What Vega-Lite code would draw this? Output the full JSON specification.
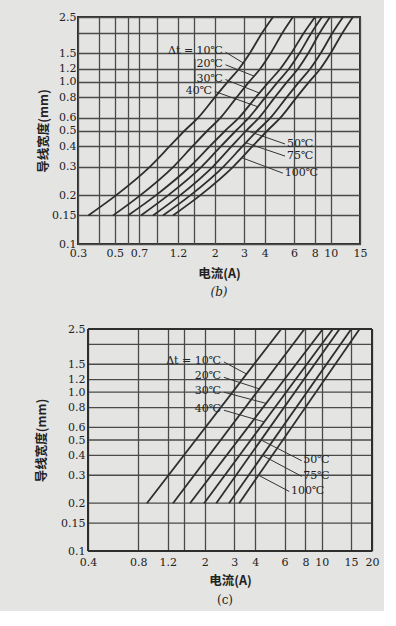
{
  "$schema": "https://vega.github.io/schema/vega-lite/v6.json",
  "background": "#e4e4e2",
  "padding": {"left": 35, "top": 10, "right": 5, "bottom": 5},
  "spacing": 24,
  "datasets": {
    "curvesB": [
      {"dt": 10, "W": 0.15, "I": 0.346}, {"dt": 10, "W": 0.2, "I": 0.51}, {"dt": 10, "W": 0.3, "I": 0.815}, {"dt": 10, "W": 0.4, "I": 1.07}, {"dt": 10, "W": 0.5, "I": 1.32}, {"dt": 10, "W": 0.6, "I": 1.59}, {"dt": 10, "W": 0.8, "I": 2.0}, {"dt": 10, "W": 1.0, "I": 2.4}, {"dt": 10, "W": 1.2, "I": 2.8}, {"dt": 10, "W": 1.5, "I": 3.26}, {"dt": 10, "W": 2.0, "I": 3.86}, {"dt": 10, "W": 2.5, "I": 4.49},
      {"dt": 20, "W": 0.15, "I": 0.488}, {"dt": 20, "W": 0.2, "I": 0.714}, {"dt": 20, "W": 0.3, "I": 1.13}, {"dt": 20, "W": 0.4, "I": 1.47}, {"dt": 20, "W": 0.5, "I": 1.81}, {"dt": 20, "W": 0.6, "I": 2.17}, {"dt": 20, "W": 0.8, "I": 2.71}, {"dt": 20, "W": 1.0, "I": 3.23}, {"dt": 20, "W": 1.2, "I": 3.76}, {"dt": 20, "W": 1.5, "I": 4.35}, {"dt": 20, "W": 2.0, "I": 5.12}, {"dt": 20, "W": 2.5, "I": 5.92},
      {"dt": 30, "W": 0.15, "I": 0.6}, {"dt": 30, "W": 0.2, "I": 0.887}, {"dt": 30, "W": 0.3, "I": 1.42}, {"dt": 30, "W": 0.4, "I": 1.87}, {"dt": 30, "W": 0.5, "I": 2.32}, {"dt": 30, "W": 0.6, "I": 2.8}, {"dt": 30, "W": 0.8, "I": 3.53}, {"dt": 30, "W": 1.0, "I": 4.25}, {"dt": 30, "W": 1.2, "I": 4.97}, {"dt": 30, "W": 1.5, "I": 5.79}, {"dt": 30, "W": 2.0, "I": 6.9}, {"dt": 30, "W": 2.5, "I": 8.04},
      {"dt": 40, "W": 0.15, "I": 0.718}, {"dt": 40, "W": 0.2, "I": 1.05}, {"dt": 40, "W": 0.3, "I": 1.67}, {"dt": 40, "W": 0.4, "I": 2.18}, {"dt": 40, "W": 0.5, "I": 2.69}, {"dt": 40, "W": 0.6, "I": 3.21}, {"dt": 40, "W": 0.8, "I": 4.03}, {"dt": 40, "W": 1.0, "I": 4.81}, {"dt": 40, "W": 1.2, "I": 5.6}, {"dt": 40, "W": 1.5, "I": 6.49}, {"dt": 40, "W": 2.0, "I": 7.66}, {"dt": 40, "W": 2.5, "I": 8.85},
      {"dt": 50, "W": 0.15, "I": 0.849}, {"dt": 50, "W": 0.2, "I": 1.24}, {"dt": 50, "W": 0.3, "I": 1.95}, {"dt": 50, "W": 0.4, "I": 2.53}, {"dt": 50, "W": 0.5, "I": 3.1}, {"dt": 50, "W": 0.6, "I": 3.7}, {"dt": 50, "W": 0.8, "I": 4.6}, {"dt": 50, "W": 1.0, "I": 5.47}, {"dt": 50, "W": 1.2, "I": 6.35}, {"dt": 50, "W": 1.5, "I": 7.33}, {"dt": 50, "W": 2.0, "I": 8.59}, {"dt": 50, "W": 2.5, "I": 9.89},
      {"dt": 75, "W": 0.15, "I": 0.975}, {"dt": 75, "W": 0.2, "I": 1.43}, {"dt": 75, "W": 0.3, "I": 2.26}, {"dt": 75, "W": 0.4, "I": 2.94}, {"dt": 75, "W": 0.5, "I": 3.62}, {"dt": 75, "W": 0.6, "I": 4.34}, {"dt": 75, "W": 0.8, "I": 5.42}, {"dt": 75, "W": 1.0, "I": 6.47}, {"dt": 75, "W": 1.2, "I": 7.52}, {"dt": 75, "W": 1.5, "I": 8.71}, {"dt": 75, "W": 2.0, "I": 10.26}, {"dt": 75, "W": 2.5, "I": 11.86},
      {"dt": 100, "W": 0.15, "I": 1.12}, {"dt": 100, "W": 0.2, "I": 1.64}, {"dt": 100, "W": 0.3, "I": 2.59}, {"dt": 100, "W": 0.4, "I": 3.38}, {"dt": 100, "W": 0.5, "I": 4.16}, {"dt": 100, "W": 0.6, "I": 4.98}, {"dt": 100, "W": 0.8, "I": 6.22}, {"dt": 100, "W": 1.0, "I": 7.43}, {"dt": 100, "W": 1.2, "I": 8.65}, {"dt": 100, "W": 1.5, "I": 10.0}, {"dt": 100, "W": 2.0, "I": 11.78}, {"dt": 100, "W": 2.5, "I": 13.6}
    ],
    "leadersB": [
      {"I": 2.32, "W": 1.52, "I2": 2.98, "W2": 1.3},
      {"I": 2.32, "W": 1.27, "I2": 3.46, "W2": 1.08},
      {"I": 2.32, "W": 1.03, "I2": 3.72, "W2": 0.85},
      {"I": 2.0, "W": 0.87, "I2": 3.63, "W2": 0.7},
      {"I": 5.3, "W": 0.413, "I2": 3.1, "W2": 0.5},
      {"I": 5.3, "W": 0.348, "I2": 3.08, "W2": 0.42},
      {"I": 5.15, "W": 0.273, "I2": 2.91, "W2": 0.34},
      {"I": 1.52, "W": 1.38, "I2": 1.52, "W2": 0.98}
    ],
    "labelsBLeft": [
      {"I": 2.24, "W": 1.54, "label": "Δt = 10℃"},
      {"I": 2.24, "W": 1.28, "label": "20℃"},
      {"I": 2.24, "W": 1.04, "label": "30℃"},
      {"I": 1.93, "W": 0.875, "label": "40℃"}
    ],
    "labelsBRight": [
      {"I": 5.45, "W": 0.413, "label": "50℃"},
      {"I": 5.45, "W": 0.348, "label": "75℃"},
      {"I": 5.29, "W": 0.273, "label": "100℃"}
    ],
    "curvesC": [
      {"dt": 10, "W": 0.2, "I": 0.9}, {"dt": 10, "W": 2.5, "I": 5.73},
      {"dt": 20, "W": 0.2, "I": 1.29}, {"dt": 20, "W": 2.5, "I": 7.89},
      {"dt": 30, "W": 0.2, "I": 1.63}, {"dt": 30, "W": 2.5, "I": 10.17},
      {"dt": 40, "W": 0.2, "I": 1.98}, {"dt": 40, "W": 2.5, "I": 11.67},
      {"dt": 50, "W": 0.2, "I": 2.34}, {"dt": 50, "W": 2.5, "I": 12.79},
      {"dt": 75, "W": 0.2, "I": 2.79}, {"dt": 75, "W": 2.5, "I": 15.03},
      {"dt": 100, "W": 0.2, "I": 3.21}, {"dt": 100, "W": 2.5, "I": 16.86}
    ],
    "gridC": [
      {"W": 0.15, "I": 0.4, "I2": 20}, {"W": 0.2, "I": 0.4, "I2": 20}, {"W": 0.3, "I": 0.4, "I2": 20}, {"W": 0.4, "I": 0.4, "I2": 20}, {"W": 0.5, "I": 0.4, "I2": 20}, {"W": 0.6, "I": 0.4, "I2": 20}, {"W": 0.8, "I": 0.4, "I2": 20}, {"W": 1.0, "I": 0.4, "I2": 20}, {"W": 1.2, "I": 0.4, "I2": 20}, {"W": 1.5, "I": 0.4, "I2": 20}, {"W": 2.0, "I": 0.4, "I2": 20}
    ],
    "frameCH": [{"W": 0.1, "I": 0.4, "I2": 20}, {"W": 2.5, "I": 0.4, "I2": 20}],
    "frameCV": [{"I": 0.4, "W": 0.1, "W2": 2.5}, {"I": 20, "W": 0.1, "W2": 2.5}],
    "leadersC": [
      {"I": 2.6, "W": 1.55, "I2": 3.56, "W2": 1.3},
      {"I": 2.6, "W": 1.24, "I2": 4.23, "W2": 1.05},
      {"I": 2.6, "W": 1.0, "I2": 4.65, "W2": 0.85},
      {"I": 2.6, "W": 0.77, "I2": 4.53, "W2": 0.65},
      {"I": 7.6, "W": 0.37, "I2": 4.34, "W2": 0.5},
      {"I": 7.6, "W": 0.295, "I2": 4.42, "W2": 0.4},
      {"I": 6.4, "W": 0.237, "I2": 4.19, "W2": 0.3}
    ],
    "labelsCLeft": [
      {"I": 2.5, "W": 1.57, "label": "Δt = 10℃"},
      {"I": 2.5, "W": 1.26, "label": "20℃"},
      {"I": 2.5, "W": 1.02, "label": "30℃"},
      {"I": 2.5, "W": 0.784, "label": "40℃"}
    ],
    "labelsCRight": [
      {"I": 7.76, "W": 0.374, "label": "50℃"},
      {"I": 7.76, "W": 0.297, "label": "75℃"},
      {"I": 6.55, "W": 0.239, "label": "100℃"}
    ]
  },
  "vconcat": [
    {
      "width": 282,
      "height": 227,
      "title": {"text": "(b)", "orient": "bottom", "offset": 7, "font": "DejaVu Serif", "fontSize": 12, "fontStyle": "italic", "fontWeight": "normal", "color": "#222"},
      "encoding": {
        "x": {"field": "I", "type": "quantitative",
          "scale": {"type": "log", "domain": [0.3, 15], "nice": false},
          "axis": {"title": "电流(A)", "values": [0.3, 0.4, 0.5, 0.6, 0.7, 0.9, 1.2, 1.5, 2, 3, 4, 6, 8, 10, 15],
            "labelExpr": "indexof([0.4, 0.6, 0.9, 1.5], datum.value) >= 0 ? '' : format(datum.value, '~g')",
            "labelPadding": 3, "titlePadding": 9}},
        "y": {"field": "W", "type": "quantitative",
          "scale": {"type": "log", "domain": [0.1, 2.5], "nice": false},
          "axis": {"title": "导线宽度(mm)", "values": [0.1, 0.15, 0.2, 0.3, 0.4, 0.5, 0.6, 0.8, 1, 1.2, 1.5, 2, 2.5],
            "labelExpr": "datum.value == 2 ? '' : datum.value == 1 ? '1.0' : format(datum.value, '~g')",
            "labelPadding": 2, "titlePadding": 1.5}}
      },
      "layer": [
        {"data": {"name": "curvesB"}, "mark": {"type": "line", "stroke": "#2e2e2e", "strokeWidth": 1.8, "interpolate": "monotone"},
         "encoding": {"detail": {"field": "dt", "type": "nominal"}}},
        {"data": {"name": "leadersB"}, "mark": {"type": "rule", "stroke": "#333", "strokeWidth": 1},
         "encoding": {"x2": {"field": "I2"}, "y2": {"field": "W2"}}},
        {"data": {"name": "labelsBLeft"}, "mark": {"type": "text", "align": "right", "baseline": "middle", "font": "DejaVu Serif", "fontSize": 11, "fill": "#222"},
         "encoding": {"text": {"field": "label"}}},
        {"data": {"name": "labelsBRight"}, "mark": {"type": "text", "align": "left", "baseline": "middle", "font": "DejaVu Serif", "fontSize": 11, "fill": "#222"},
         "encoding": {"text": {"field": "label"}}}
      ]
    },
    {
      "width": 294,
      "height": 222,
      "view": {"stroke": null},
      "title": {"text": "(c)", "orient": "bottom", "offset": 8, "font": "DejaVu Serif", "fontSize": 12, "fontWeight": "normal", "color": "#222"},
      "encoding": {
        "x": {"field": "I", "type": "quantitative",
          "scale": {"type": "log", "domain": [0.3484, 20], "nice": false},
          "axis": {"title": "电流(A)", "values": [0.4, 0.8, 1.2, 1.5, 2, 3, 4, 6, 8, 10, 15, 20],
            "labelExpr": "datum.value == 1.5 ? '' : format(datum.value, '~g')",
            "labelPadding": 5, "titlePadding": 7, "titleX": 152}},
        "y": {"field": "W", "type": "quantitative",
          "scale": {"type": "log", "domain": [0.1, 2.5], "nice": false},
          "axis": {"title": "导线宽度(mm)", "values": [0.1, 0.15, 0.2, 0.3, 0.4, 0.5, 0.6, 0.8, 1, 1.2, 1.5, 2, 2.5],
            "labelExpr": "datum.value == 2 ? '' : datum.value == 1 ? '1.0' : format(datum.value, '~g')",
            "grid": false, "offset": -10,
            "labelPadding": 3, "titlePadding": 12}}
      },
      "layer": [
        {"data": {"name": "gridC"}, "mark": {"type": "rule", "stroke": "#4a4a4a", "strokeWidth": 1.3},
         "encoding": {"x2": {"field": "I2"}}},
        {"data": {"name": "frameCH"}, "mark": {"type": "rule", "stroke": "#2e2e2e", "strokeWidth": 2},
         "encoding": {"x2": {"field": "I2"}}},
        {"data": {"name": "frameCV"}, "mark": {"type": "rule", "stroke": "#2e2e2e", "strokeWidth": 2},
         "encoding": {"y2": {"field": "W2"}}},
        {"data": {"name": "curvesC"}, "mark": {"type": "line", "stroke": "#2e2e2e", "strokeWidth": 1.8},
         "encoding": {"detail": {"field": "dt", "type": "nominal"}}},
        {"data": {"name": "leadersC"}, "mark": {"type": "rule", "stroke": "#333", "strokeWidth": 1},
         "encoding": {"x2": {"field": "I2"}, "y2": {"field": "W2"}}},
        {"data": {"name": "labelsCLeft"}, "mark": {"type": "text", "align": "right", "baseline": "middle", "font": "DejaVu Serif", "fontSize": 11, "fill": "#222"},
         "encoding": {"text": {"field": "label"}}},
        {"data": {"name": "labelsCRight"}, "mark": {"type": "text", "align": "left", "baseline": "middle", "font": "DejaVu Serif", "fontSize": 11, "fill": "#222"},
         "encoding": {"text": {"field": "label"}}}
      ]
    }
  ],
  "config": {
    "view": {"stroke": "#2e2e2e", "strokeWidth": 2},
    "axis": {
      "grid": true, "gridColor": "#4a4a4a", "gridWidth": 1.3, "gridOpacity": 1,
      "domain": false, "ticks": false, "tickSize": 0,
      "labelFont": "DejaVu Serif", "labelFontSize": 11, "labelColor": "#222",
      "labelOverlap": false, "labelFlush": false, "labelBound": false,
      "titleFont": "Noto Sans CJK SC", "titleFontSize": 12.5, "titleFontWeight": "bold", "titleColor": "#222"
    }
  }
}
